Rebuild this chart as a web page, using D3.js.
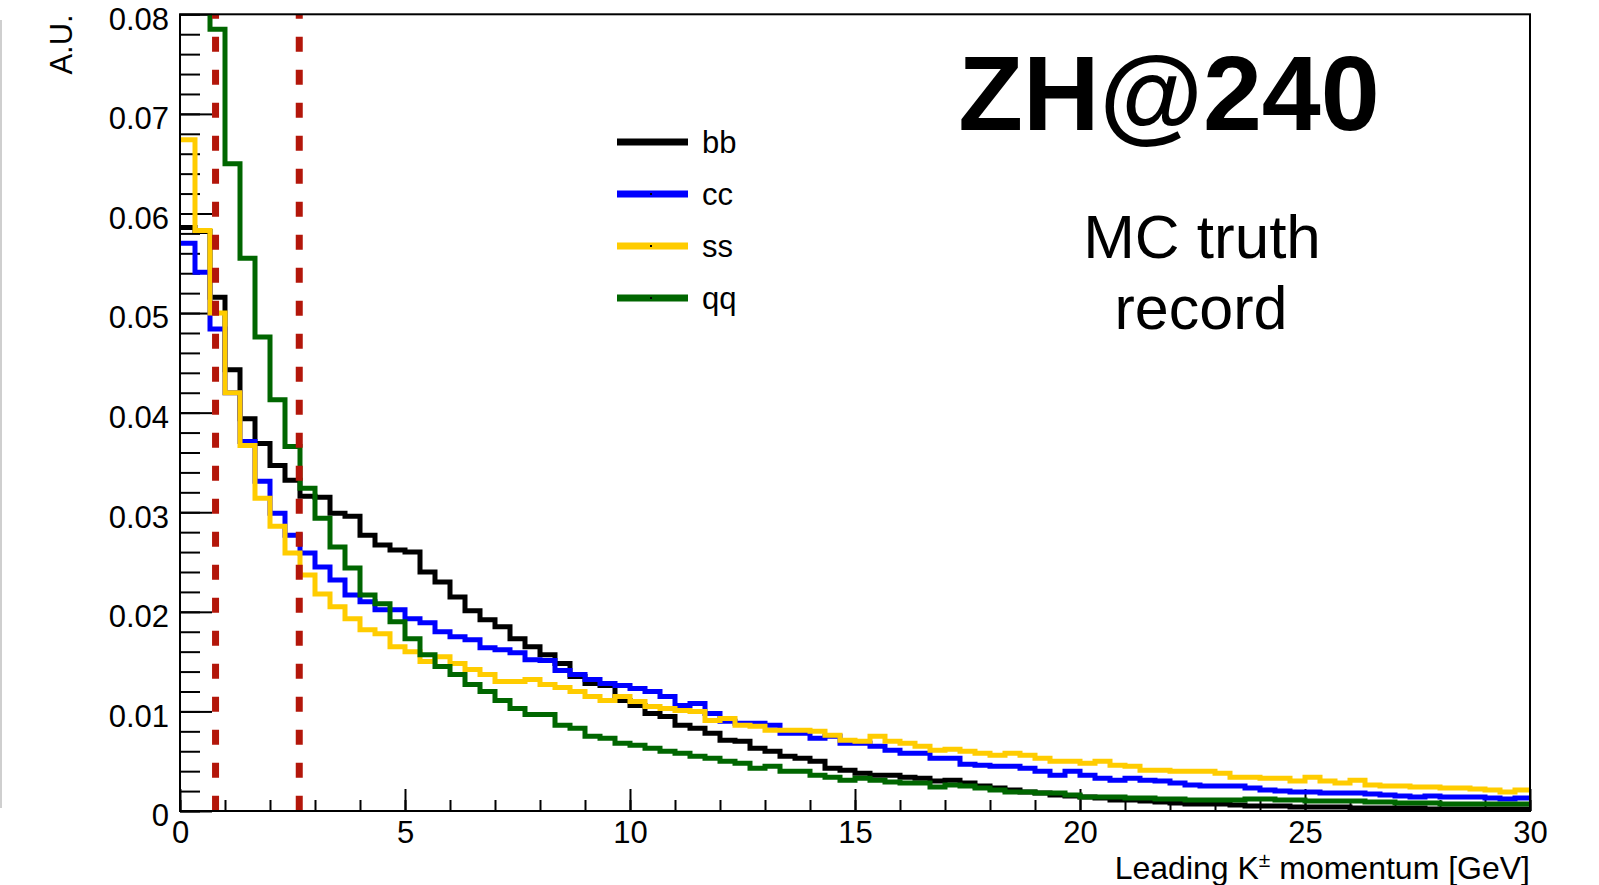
<!DOCTYPE html>
<html>
<head>
<meta charset="utf-8">
<script src="https://cdn.jsdelivr.net/npm/d3@7"></script>
<style>
  body { margin: 0; background: #fff; }
  svg { display: block; font-family: "Liberation Sans", Arial, Helvetica, sans-serif; }
</style>
</head>
<body>
<div id="chart"></div>
<script>
"use strict";

// binning of the histograms: 90 bins from 0 to 30 GeV
var xMin = 0, xMax = 30, nBins = 90;

// bin contents (qq first two bins are above the frame)
var bb = [0.0586, 0.0582, 0.0516, 0.0443, 0.0394, 0.0369, 0.0347, 0.0332, 0.0316, 0.0315,
          0.0299, 0.0296, 0.0277, 0.0267, 0.0262, 0.0260, 0.0240, 0.0230, 0.0215, 0.0201,
          0.0192, 0.0185, 0.0173, 0.0165, 0.0157, 0.0148, 0.0135, 0.0128, 0.0126, 0.0111,
          0.0106, 0.0098, 0.0095, 0.0086, 0.0083, 0.0078, 0.0071, 0.0070, 0.0063, 0.0060,
          0.0055, 0.0053, 0.0050, 0.0043, 0.0041, 0.0038, 0.0036, 0.0036, 0.0034, 0.0033,
          0.0030, 0.0031, 0.0028, 0.0025, 0.0023, 0.0021, 0.0019, 0.0018, 0.0016, 0.0015,
          0.0014, 0.0013, 0.0011, 0.0011, 0.0010, 0.0009, 0.0008, 0.0007, 0.0007, 0.0007,
          0.0006, 0.0005, 0.0005, 0.0005, 0.0004, 0.0004, 0.0004, 0.0004, 0.0003, 0.0003,
          0.0003, 0.0003, 0.0003, 0.0002, 0.0002, 0.0002, 0.0002, 0.0002, 0.0002, 0.0002];

var cc = [0.0570, 0.0541, 0.0484, 0.0420, 0.0371, 0.0331, 0.0299, 0.0277, 0.0259, 0.0245,
          0.0232, 0.0217, 0.0210, 0.0202, 0.0202, 0.0193, 0.0189, 0.0180, 0.0175, 0.0172,
          0.0164, 0.0162, 0.0159, 0.0152, 0.0151, 0.0141, 0.0137, 0.0132, 0.0128, 0.0126,
          0.0123, 0.0120, 0.0115, 0.0106, 0.0108, 0.0098, 0.0090, 0.0088, 0.0088, 0.0086,
          0.0078, 0.0078, 0.0073, 0.0075, 0.0068, 0.0068, 0.0065, 0.0061, 0.0058, 0.0058,
          0.0053, 0.0053, 0.0047, 0.0046, 0.0045, 0.0045, 0.0043, 0.0040, 0.0036, 0.0040,
          0.0036, 0.0033, 0.0031, 0.0033, 0.0031, 0.0030, 0.0028, 0.0026, 0.0025, 0.0025,
          0.0025, 0.0023, 0.0021, 0.0020, 0.0019, 0.0019, 0.0018, 0.0018, 0.0018, 0.0017,
          0.0016, 0.0015, 0.0014, 0.0015, 0.0014, 0.0014, 0.0014, 0.0013, 0.0012, 0.0013];

var ss = [0.0674, 0.0583, 0.0500, 0.0420, 0.0367, 0.0314, 0.0286, 0.0259, 0.0237, 0.0218,
          0.0205, 0.0193, 0.0182, 0.0178, 0.0165, 0.0160, 0.0150, 0.0155, 0.0148, 0.0142,
          0.0137, 0.0130, 0.0130, 0.0132, 0.0127, 0.0124, 0.0120, 0.0115, 0.0111, 0.0115,
          0.0110, 0.0105, 0.0103, 0.0101, 0.0100, 0.0091, 0.0093, 0.0086, 0.0085, 0.0081,
          0.0081, 0.0081, 0.0080, 0.0076, 0.0071, 0.0070, 0.0075, 0.0070, 0.0068, 0.0065,
          0.0061, 0.0062, 0.0060, 0.0058, 0.0056, 0.0058, 0.0056, 0.0053, 0.0050, 0.0050,
          0.0048, 0.0050, 0.0046, 0.0045, 0.0041, 0.0041, 0.0040, 0.0040, 0.0040, 0.0038,
          0.0034, 0.0034, 0.0033, 0.0033, 0.0030, 0.0034, 0.0030, 0.0028, 0.0031, 0.0026,
          0.0025, 0.0025, 0.0024, 0.0024, 0.0023, 0.0023, 0.0022, 0.0021, 0.0019, 0.0021];

var qq = [0.0950, 0.0870, 0.0785, 0.0650, 0.0555, 0.0476, 0.0413, 0.0366, 0.0324, 0.0294,
          0.0265, 0.0244, 0.0217, 0.0208, 0.0190, 0.0173, 0.0157, 0.0145, 0.0137, 0.0127,
          0.0120, 0.0111, 0.0103, 0.0097, 0.0097, 0.0086, 0.0083, 0.0075, 0.0073, 0.0068,
          0.0066, 0.0063, 0.0060, 0.0058, 0.0055, 0.0053, 0.0050, 0.0048, 0.0043, 0.0045,
          0.0040, 0.0040, 0.0036, 0.0034, 0.0031, 0.0033, 0.0031, 0.0029, 0.0028, 0.0028,
          0.0024, 0.0026, 0.0025, 0.0023, 0.0021, 0.0019, 0.0019, 0.0018, 0.0018, 0.0016,
          0.0014, 0.0014, 0.0014, 0.0013, 0.0013, 0.0012, 0.0012, 0.0011, 0.0011, 0.0011,
          0.0011, 0.0012, 0.0012, 0.0011, 0.0011, 0.0010, 0.0010, 0.0010, 0.0010, 0.0009,
          0.0009, 0.0008, 0.0008, 0.0008, 0.0007, 0.0007, 0.0007, 0.0007, 0.0007, 0.0007];

var seriesNames = ["bb", "cc", "ss", "qq"];
var seriesValues = [bb, cc, ss, qq];
var seriesColors = ["#000000", "#0000ff", "#ffcc00", "#006600"];

// cut positions drawn as red dashed lines [GeV]
var cuts = [0.79, 2.65];

// axes
var xTicks = [0, 5, 10, 15, 20, 25, 30];
var yTicks = [0, 0.01, 0.02, 0.03, 0.04, 0.05, 0.06, 0.07, 0.08];
var yMax = 0.08;

/*
 * # Boilerplate
 */
var W = 1599, H = 885;
var margin = { top: 14.3, right: 69, bottom: 74, left: 180 },
    width = W - margin.left - margin.right,
    height = H - margin.top - margin.bottom;

var root = d3.select("#chart")
             .append("svg")
             .attr("width", W)
             .attr("height", H);

root.append("rect").attr("width", W).attr("height", H).attr("fill", "#fff");

// faint border left over from the screenshot crop
root.append("line")
    .attr("x1", 1).attr("x2", 1)
    .attr("y1", 20).attr("y2", 808)
    .attr("stroke", "#cfcfcf")
    .attr("stroke-width", 2);

var svg = root.append("g")
              .attr("transform", "translate(" + margin.left + "," + margin.top + ")");

var x = d3.scaleLinear().domain([xMin, xMax]).range([0, width]);
var y = d3.scaleLinear().domain([0, yMax]).range([height, 0]);

svg.append("clipPath")
   .attr("id", "frameClip")
   .append("rect")
   .attr("width", width)
   .attr("height", height);

/*
 * # Ticks (ROOT style, pointing into the frame)
 */
var xMinor = d3.range(xMin, xMax + 0.001, 1);
svg.append("g")
   .attr("transform", "translate(0," + height + ")")
   .call(d3.axisBottom(x).tickValues(xMinor).tickSize(-11).tickSizeOuter(0).tickFormat(""))
   .call(function(g) { g.select(".domain").remove(); })
   .selectAll("line").attr("stroke-width", 2);

var xAxis = svg.append("g")
   .attr("transform", "translate(0," + height + ")")
   .call(d3.axisBottom(x).tickValues(xTicks).tickSize(-22).tickSizeOuter(0).tickPadding(10));
xAxis.select(".domain").remove();
xAxis.selectAll("line").attr("stroke-width", 2);
xAxis.selectAll("text")
     .attr("font-size", 31)
     .attr("font-family", "Liberation Sans, Arial, sans-serif")
     .attr("fill", "#000");

var yMinor = d3.range(0, yMax + 0.0001, 0.002);
svg.append("g")
   .call(d3.axisLeft(y).tickValues(yMinor).tickSize(-20).tickSizeOuter(0).tickFormat(""))
   .call(function(g) { g.select(".domain").remove(); })
   .selectAll("line").attr("stroke-width", 2);

var yAxis = svg.append("g")
   .call(d3.axisLeft(y).tickValues(yTicks).tickSize(-32).tickSizeOuter(0).tickPadding(11)
           .tickFormat(function(d) { return d === 0 ? "0" : d3.format(".2f")(d); }));
yAxis.select(".domain").remove();
yAxis.selectAll("line").attr("stroke-width", 2);
yAxis.selectAll("text")
     .attr("font-size", 31)
     .attr("font-family", "Liberation Sans, Arial, sans-serif")
     .attr("dy", "0.48em")
     .attr("fill", "#000");

/*
 * # Histograms
 */
var edges = d3.range(nBins + 1).map(function(i) { return xMin + i * (xMax - xMin) / nBins; });

var step = d3.line()
             .x(function(d) { return x(d[0]); })
             .y(function(d) { return y(d[1]); })
             .curve(d3.curveStepAfter);

var hists = svg.append("g").attr("clip-path", "url(#frameClip)");

seriesValues.forEach(function(vals, k) {
  var pts = edges.map(function(e, i) { return [e, vals[Math.min(i, vals.length - 1)]]; });
  hists.append("path")
       .attr("d", step(pts))
       .attr("fill", "none")
       .attr("stroke", seriesColors[k])
       .attr("stroke-width", 5)
       .attr("stroke-linejoin", "miter")
       .attr("stroke-linecap", "butt");
});

// cut lines
svg.selectAll(".cut")
   .data(cuts)
   .enter()
   .append("line")
   .attr("class", "cut")
   .attr("x1", function(d) { return x(d); })
   .attr("x2", function(d) { return x(d); })
   .attr("y1", y(yMax))
   .attr("y2", y(0))
   .attr("stroke", "#b3160a")
   .attr("stroke-width", 7)
   .attr("stroke-dasharray", "15,18")
   .attr("stroke-dashoffset", 10.6);

// frame
svg.append("rect")
   .attr("width", width)
   .attr("height", height)
   .attr("fill", "none")
   .attr("stroke", "#000")
   .attr("stroke-width", 2);

/*
 * # Axis titles
 */
var xTitle = svg.append("text")
   .attr("x", width)
   .attr("y", height + 68)
   .attr("text-anchor", "end")
   .attr("font-size", 32)
   .attr("fill", "#000");
xTitle.append("tspan").text("Leading K");
xTitle.append("tspan").attr("font-size", 21).attr("dy", -12).text("\u00b1");
xTitle.append("tspan").attr("dy", 12).text(" momentum [GeV]");

root.append("text")
    .attr("transform", "translate(72," + margin.top + ") rotate(-90)")
    .attr("text-anchor", "end")
    .attr("font-size", 31)
    .attr("fill", "#000")
    .text("A.U.");

/*
 * # Legend
 */
var legend = root.append("g");
var legendY0 = 142, legendDy = 52;

seriesNames.forEach(function(name, k) {
  var ly = legendY0 + k * legendDy;
  legend.append("line")
        .attr("x1", 617).attr("x2", 688)
        .attr("y1", ly).attr("y2", ly)
        .attr("stroke", seriesColors[k])
        .attr("stroke-width", 7);
  if (k > 0) {
    legend.append("rect")
          .attr("x", 650).attr("y", ly - 1)
          .attr("width", 2).attr("height", 2)
          .attr("fill", "#000");
  }
  legend.append("text")
        .attr("x", 702)
        .attr("y", ly + 11)
        .attr("font-size", 31)
        .attr("fill", "#000")
        .text(name);
});

/*
 * # Labels
 */
root.append("text")
    .attr("x", 1169)
    .attr("y", 130)
    .attr("text-anchor", "middle")
    .attr("font-size", 106)
    .attr("font-weight", "bold")
    .attr("fill", "#000")
    .text("ZH@240");

root.append("text")
    .attr("x", 1202)
    .attr("y", 258)
    .attr("text-anchor", "middle")
    .attr("font-size", 62)
    .attr("fill", "#000")
    .text("MC truth");

root.append("text")
    .attr("x", 1201)
    .attr("y", 329)
    .attr("text-anchor", "middle")
    .attr("font-size", 61)
    .attr("fill", "#000")
    .text("record");
</script>
</body>
</html>
